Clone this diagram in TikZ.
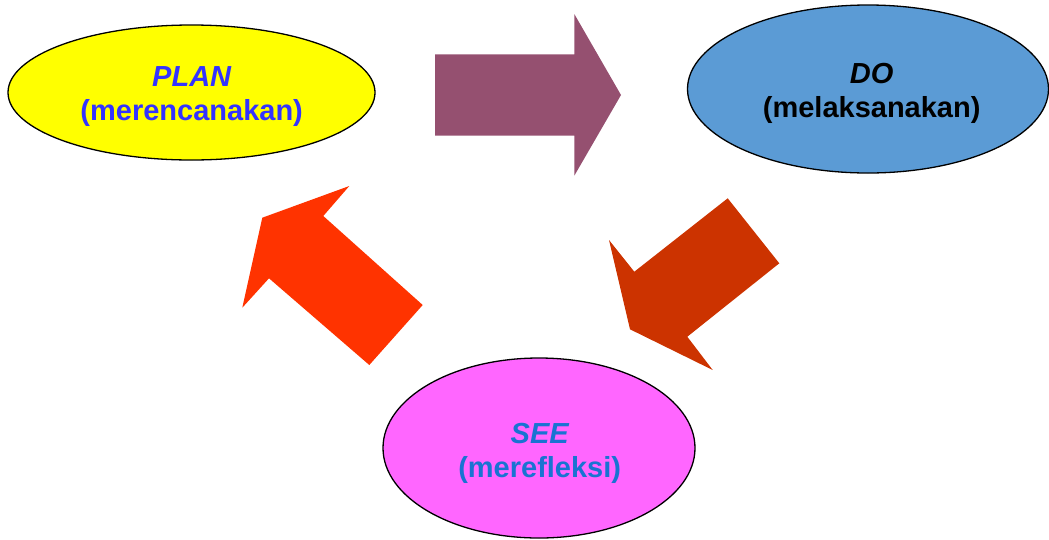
\documentclass[tikz,border=0pt]{standalone}
\usepackage{fontspec}
\setmainfont{Liberation Sans}
\usetikzlibrary{shapes.geometric}
\definecolor{arrowA}{RGB}{149,80,112}
\definecolor{arrowB}{HTML}{CC3300}
\definecolor{arrowC}{HTML}{FF3300}
\definecolor{planfill}{HTML}{FFFF00}
\definecolor{plantext}{HTML}{3333FF}
\definecolor{dofill}{HTML}{5B9BD5}
\definecolor{seefill}{HTML}{FF66FF}
\definecolor{seetext}{HTML}{1973D2}
\tikzset{
  ell/.style={ellipse, draw=black, line width=1.3pt, inner sep=0pt},
  lbl/.style={anchor=base, inner sep=0pt, font=\fontsize{29}{34}\selectfont\bfseries},
  blockarrow/.style={draw=none}
}
\begin{document}
\begin{tikzpicture}[x=1pt,y=-1pt]
\useasboundingbox (0,0) rectangle (1049,539);
% block arrows
\fill[arrowA] (435,54.3) -- (574.3,54.3) -- (574.3,14) -- (621,95) -- (574.3,175.7) -- (574.3,135.7) -- (435,135.7) -- cycle;
\fill[arrowB] (727.7,198.3) -- (779.3,263.3) -- (687.3,336.7) -- (712.7,370) -- (630,329.3) -- (609,240) -- (634.3,271.7) -- cycle;
\fill[arrowC] (422.7,305) -- (369.3,365) -- (269,278.3) -- (242.3,307.7) -- (262.3,217.7) -- (349.3,186) -- (323.3,216) -- cycle;
% ellipses
\node[ell, fill=planfill, minimum width=367pt, minimum height=135pt] (plan) at (191.5,92.5) {};
\node[ell, fill=dofill, minimum width=361pt, minimum height=168pt] (do) at (868,89) {};
\node[ell, fill=seefill, minimum width=312pt, minimum height=180pt] (see) at (539,448) {};
% labels
\node[lbl, text=plantext] (plan1) at (191.7,86.7) {\itshape PLAN};
\node[lbl, text=plantext] (plan2) at (191.7,120.7) {(merencanakan)};
\node[lbl, text=black] (do1) at (871.7,83.3) {\itshape DO};
\node[lbl, text=black] (do2) at (871.7,117.3) {(melaksanakan)};
\node[lbl, text=seetext] (see1) at (539.7,443.3) {\itshape SEE};
\node[lbl, text=seetext] (see2) at (539.7,477) {(merefleksi)};
\end{tikzpicture}
\end{document}
